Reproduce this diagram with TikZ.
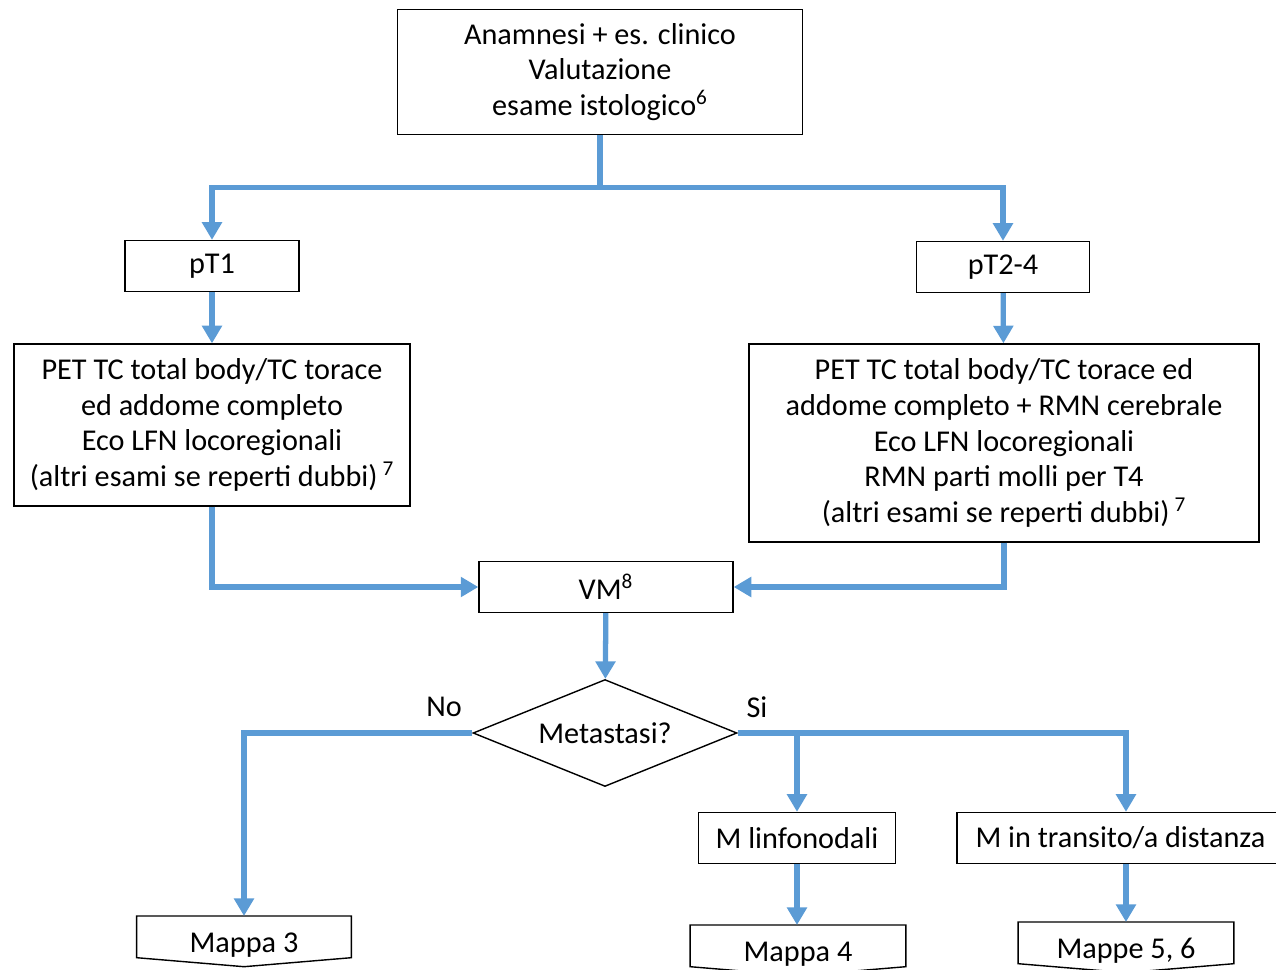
\documentclass[tikz,border=0pt]{standalone}
\usepackage{fontspec}
\setmainfont{Carlito}
\usepackage{tikz}
\usetikzlibrary{shapes.geometric,arrows.meta}

\definecolor{lineablu}{RGB}{91,155,213}

\tikzset{
  riquadro/.style={draw, line width=0.8pt, fill=white, align=center, inner sep=0pt,
    font=\fontsize{17.2}{20.4}\selectfont},
  rombo/.style={diamond, draw, line width=0.8pt, fill=white, inner sep=0pt, shape aspect=2.47,
    font=\fontsize{17.2}{20.4}\selectfont},
  freccia/.style={draw=lineablu, line width=3pt, -{Triangle[width=11pt,length=10pt]}},
  etichetta/.style={font=\fontsize{17.2}{20.4}\selectfont}
}

\begin{document}
\begin{tikzpicture}[x=0.02cm,y=-0.02cm]
        \clip (0,0) rectangle (1276,970);
        % Riquadro iniziale
            \node[riquadro, minimum width=8.1cm, minimum height=2.5cm] (anamnesi) at (600,72)
              {Anamnesi + es. clinico\\Valutazione\\esame istologico\textsuperscript{6}};
            % Stadi
            \node[riquadro, minimum width=3.48cm, minimum height=1.02cm] (pT1) at (212,266) {pT1};
            \node[riquadro, minimum width=3.46cm, minimum height=1.02cm] (pT24) at (1003,267) {pT2-4};
            % Esami di stadiazione
            \node[riquadro, minimum width=7.92cm, minimum height=3.24cm] (esamiA) at (212,425)
              {PET TC total body/TC torace\\ed addome completo\\Eco LFN locoregionali\\(altri esami se reperti dubbi)\,\textsuperscript{7}};
            \node[riquadro, minimum width=10.2cm, minimum height=3.96cm] (esamiB) at (1004,443)
              {PET TC total body/TC torace ed\\addome completo + RMN cerebrale\\Eco LFN locoregionali\\RMN parti molli per T4\\(altri esami se reperti dubbi)\,\textsuperscript{7}};
            \node[riquadro, minimum width=5.08cm, minimum height=1.02cm] (vm) at (606,587) {VM\textsuperscript{8}};
            % Decisione
            \node[rombo, minimum width=5.28cm, minimum height=2.14cm] (metastasi) at (605,733) {Metastasi?};
            \node[etichetta] (no) at (444,707) {No};
            \node[etichetta] (si) at (757,707) {Si};
            \node[riquadro, minimum width=3.94cm, minimum height=1.02cm] (linf) at (797,838) {M linfonodali};
            \node[riquadro, minimum width=6.76cm, minimum height=1.02cm] (transito) at (1126,838)
              {\hspace*{-0.22cm}M in transito/a distanza};
            % Rimandi alle mappe
            \node[minimum width=4.28cm, minimum height=0.82cm, inner sep=0pt, etichetta, anchor=north] (mappa3) at (244,916) {};
            \node[minimum width=4.3cm, minimum height=0.82cm, inner sep=0pt, etichetta, anchor=north] (mappa4) at (798,925) {};
            \node[minimum width=4.3cm, minimum height=0.82cm, inner sep=0pt, etichetta, anchor=north] (mappe56) at (1126,922) {};
            \foreach \m/\t in {mappa3/Mappa 3, mappa4/Mappa 4, mappe56/Mappe 5{,} 6}{
              \draw[line width=0.8pt] (\m.south west) -- (\m.north west) -- (\m.north east)
                -- (\m.south east) -- ([yshift=-0.18cm]\m.south) -- cycle;
              \node[etichetta] at ([yshift=-0.16cm]\m.center) {\t};
            }

            % Connettori
            \draw[freccia] (anamnesi.south) -- ++(0,52) -| (pT1.north);
            \draw[freccia] (anamnesi.south) -- ++(0,52) -| (pT24.north);
            \draw[freccia] (pT1) -- (esamiA);
            \draw[freccia] (pT24) -- (esamiB);
            \draw[freccia] (esamiA.south) |- (vm.west);
            \draw[freccia] (esamiB.south) |- (vm.east);
            \draw[freccia] (vm) -- (metastasi);
            \draw[freccia] (metastasi.west) -| (mappa3.north);
            \draw[freccia] (metastasi.east) -| (linf.north);
            \draw[freccia] (metastasi.east) -| (transito.north);
            \draw[freccia] (linf) -- (linf.south |- mappa4.north);
            \draw[freccia] (transito) -- (mappe56.north);
        \end{tikzpicture}
\end{document}
